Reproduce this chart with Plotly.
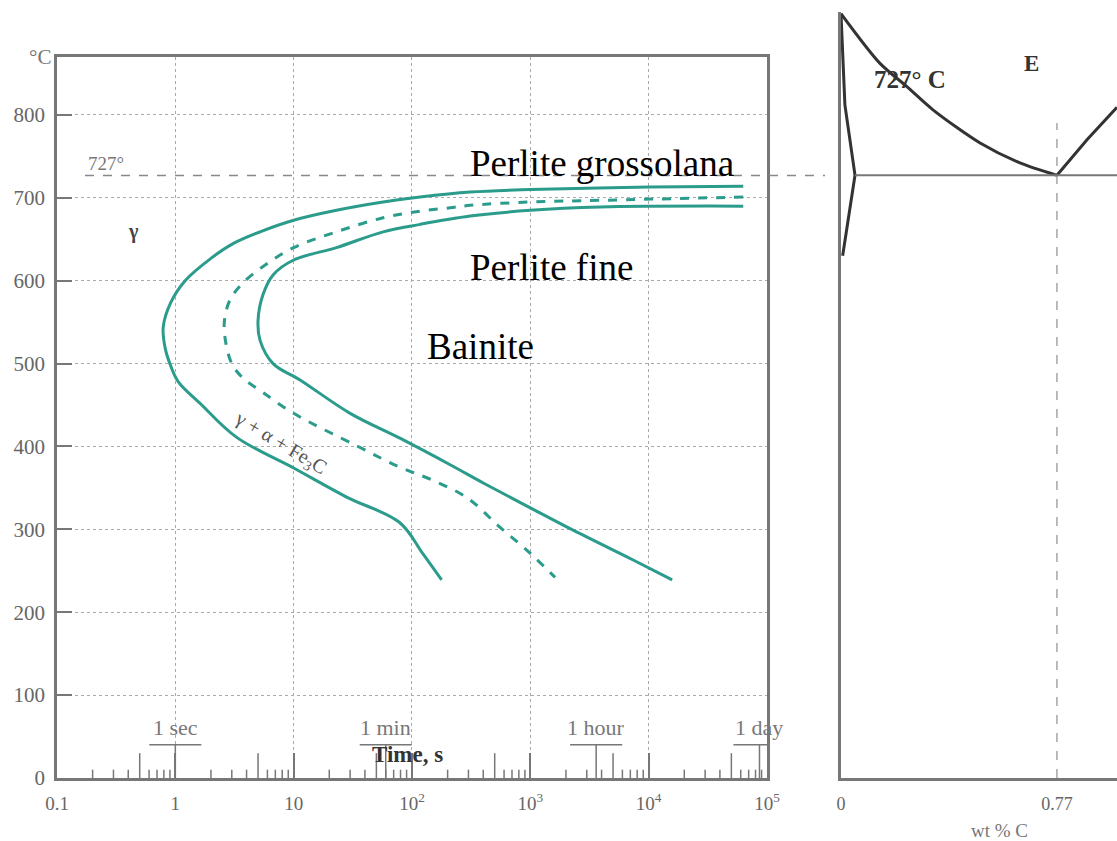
import numpy as np
import plotly.graph_objects as go

# ---------------- data ----------------
# TTT curves (time in s, temperature in °C)
start_time = [63000, 10200, 1000, 310, 117, 57, 23, 10, 5.2, 3.1, 2.0, 1.21, 0.91, 0.79, 0.82, 0.91, 1.06, 1.62, 3.3, 10, 28, 79, 123, 178]
start_temp = [714, 713, 710, 707, 701, 695, 685, 673, 659, 645, 627, 600, 573, 544, 519, 498, 478, 452, 411, 374, 339, 308, 271, 239]

mid_time = [63000, 3900, 1000, 310, 210, 117, 57, 23, 10, 5.75, 3.7, 2.9, 2.6, 2.65, 3.0, 3.7, 5.4, 10, 35, 79, 151, 293, 550, 1000, 1620]
mid_temp = [701, 697, 695, 691, 688, 684, 676, 659, 640, 619, 597, 577, 552, 528, 500, 483, 466, 440, 400, 375, 359, 338, 303, 271, 242]

end_time = [63000, 3900, 1000, 310, 117, 57, 23, 10, 6.7, 5.5, 5.0, 5.2, 6.7, 11.4, 30, 79, 210, 400, 1000, 2300, 7400, 15800]
end_temp = [690, 689, 685, 678, 668, 659, 640, 625, 607, 583, 552, 528, 500, 480, 440, 410, 378, 356, 326, 299, 263, 239]

eutectoid_T = 727
eutectoid_C = 0.77

# Fe-C diagram fragment (wt % C, °C)
a3_wt = [0.0, 0.139, 0.235, 0.328, 0.496, 0.638, 0.77]
a3_temp = [922, 862, 834, 806, 766, 742, 727]
acm_wt = [0.77, 0.877, 0.984]
acm_temp = [727, 770, 809]
alpha_wt = [0.0, 0.014, 0.05, 0.006]
alpha_temp = [922, 812, 727, 630]
eut_line_wt = [0.05, 0.984]

# time axis ticks
time_tickvals = [0.1, 1, 10, 100, 1000, 10000, 100000]
time_ticktext = ['0.1', '1', '10', '10<sup>2</sup>', '10<sup>3</sup>', '10<sup>4</sup>', '10<sup>5</sup>']
temp_tickvals = [0, 100, 200, 300, 400, 500, 600, 700, 800]

marker_labels = ['1 sec', '1 min', '1 hour', '1 day']
marker_secs = [1, 60, 3600, 86400]

TEAL = '#2b9c8b'
GRAY = '#777777'
DARK = '#333333'
SERIF = 'Liberation Serif'

fig = go.Figure()

# ---------------- TTT curves ----------------
for tx, ty, dash in [(start_time, start_temp, 'solid'), (mid_time, mid_temp, 'dash'), (end_time, end_temp, 'solid')]:
    fig.add_trace(go.Scatter(x=tx, y=ty, mode='lines',
                             line=dict(color=TEAL, width=3, dash=dash, shape='spline', smoothing=1.0),
                             xaxis='x', yaxis='y', showlegend=False))

# minor log ticks along the time axis
mx, my = [], []
for k in range(-1, 5):
    for d in range(2, 10):
        t = d * 10.0 ** k
        mx += [t, t, None]
        my += [0, 30 if d == 5 else 10, None]
fig.add_trace(go.Scatter(x=mx, y=my, mode='lines', line=dict(color=GRAY, width=1.5), xaxis='x', yaxis='y', showlegend=False, hoverinfo='skip'))

# time markers (1 sec, 1 min, ...)
bx, by = [], []
for t in marker_secs:
    bx += [t * 10 ** -0.22, t * 10 ** 0.22, None, t, t, None]
    by += [40, 40, None, 0, 40, None]
fig.add_trace(go.Scatter(x=bx, y=by, mode='lines', line=dict(color=GRAY, width=1.5), xaxis='x', yaxis='y', showlegend=False, hoverinfo='skip'))

# ---------------- Fe-C fragment ----------------
fig.add_trace(go.Scatter(x=a3_wt, y=a3_temp, mode='lines', line=dict(color=DARK, width=3, shape='spline', smoothing=0.8), xaxis='x2', yaxis='y2', showlegend=False))
fig.add_trace(go.Scatter(x=acm_wt, y=acm_temp, mode='lines', line=dict(color=DARK, width=3), xaxis='x2', yaxis='y2', showlegend=False))
fig.add_trace(go.Scatter(x=alpha_wt, y=alpha_temp, mode='lines', line=dict(color=DARK, width=3), xaxis='x2', yaxis='y2', showlegend=False))
fig.add_trace(go.Scatter(x=eut_line_wt, y=[eutectoid_T, eutectoid_T], mode='lines', line=dict(color=GRAY, width=2), xaxis='x2', yaxis='y2', showlegend=False))
fig.add_trace(go.Scatter(x=[eutectoid_C, eutectoid_C], y=[0, 790], mode='lines', line=dict(color=GRAY, width=1, dash='dash'), xaxis='x2', yaxis='y2', showlegend=False))

# 727° dashed line across both panels
fig.add_shape(type='line', xref='paper', yref='y', x0=0.0264, x1=0.7245, y0=eutectoid_T, y1=eutectoid_T,
              line=dict(color='#888888', width=1.5, dash='dash'))

ann = []
def A(x, y, text, size, color='black', xref='x', yref='y', xanchor='center', yanchor='middle', angle=0, bold=False):
    ann.append(dict(x=x, y=y, xref=xref, yref=yref, text=(f'<b>{text}</b>' if bold else text), showarrow=False,
                    xanchor=xanchor, yanchor=yanchor, textangle=angle,
                    font=dict(family=SERIF, size=size, color=color)))

A(np.log10(300), 742, 'Perlite grossolana', 37, xanchor='left')
A(np.log10(300), 616, 'Perlite fine', 37, xanchor='left')
A(np.log10(128), 521, 'Bainite', 37, xanchor='left')
A(0.887, 404, 'γ + α + Fe<sub>3</sub>C', 20, color='#555555', angle=31)
A(-0.583, 742, '727°', 19, color='#777777')
A(-0.355, 659, 'γ', 20, color='#444444', bold=True)
A(-0.016, 1.0, '°C', 21, color='#777777', xref='paper', yref='y domain', yanchor='middle')
for lab, t in zip(marker_labels, marker_secs):
    A(np.log10(t), 61, lab, 22, color='#777777')
A(1.96, 28, 'Time, s', 23, color='#333333', bold=True)
A(0.246, 842, '727° C', 25, color=DARK, xref='x2', yref='y2', bold=True)
A(0.68, 862, 'E', 23, color=DARK, xref='x2', yref='y2', bold=True)
A(0.8896, -0.068, 'wt % C', 19, color='#777777', xref='paper', yref='paper')

fig.update_layout(
    width=1117, height=841, autosize=False,
    margin=dict(l=57, r=0, t=12, b=63),
    paper_bgcolor='white', plot_bgcolor='white',
    annotations=ann,
    xaxis=dict(type='log', range=[-1, 5], domain=[0, 0.6698], anchor='y', automargin=False,
               tickvals=time_tickvals, ticktext=time_ticktext,
               ticks='inside', ticklen=25, tickcolor=GRAY, tickwidth=1.5,
               showgrid=True, gridcolor='#aaaaaa', griddash='dot', gridwidth=1,
               showline=True, linecolor=GRAY, linewidth=2.5, mirror=True,
               tickfont=dict(family=SERIF, size=19, color='#666666'), ticklabelstandoff=6,
               zeroline=False),
    yaxis=dict(range=[0, 870], domain=[0, 0.9413], anchor='x', automargin=False,
               tickvals=temp_tickvals, ticks='inside', ticklen=15, tickcolor=GRAY, tickwidth=2,
               showgrid=True, gridcolor='#aaaaaa', griddash='dot', gridwidth=1,
               showline=True, linecolor=GRAY, linewidth=2.5, mirror=True,
               tickfont=dict(family=SERIF, size=21, color='#666666'), ticklabelstandoff=5,
               zeroline=False),
    xaxis2=dict(range=[0, 0.984], domain=[0.7396, 1.0], anchor='y2', automargin=False,
                tickvals=[0, eutectoid_C], ticktext=['0', '0.77'], ticks='',
                showgrid=False, zeroline=False, showline=True, linecolor=GRAY, linewidth=2.5,
                tickfont=dict(family=SERIF, size=18, color='#666666'), ticklabelstandoff=8),
    yaxis2=dict(range=[0, 924], domain=[0, 1.0], anchor='x2', automargin=False,
                showticklabels=False, ticks='', showgrid=False, zeroline=False,
                showline=True, linecolor=GRAY, linewidth=2.5),
)

post = (
    "document.documentElement.style.margin='0';document.documentElement.style.overflow='hidden';"
    "document.body.style.margin='0';document.body.style.padding='0';document.body.style.overflow='hidden';"
)
fig.write_html('out.html', config={'displayModeBar': False, 'responsive': False}, post_script=post)
